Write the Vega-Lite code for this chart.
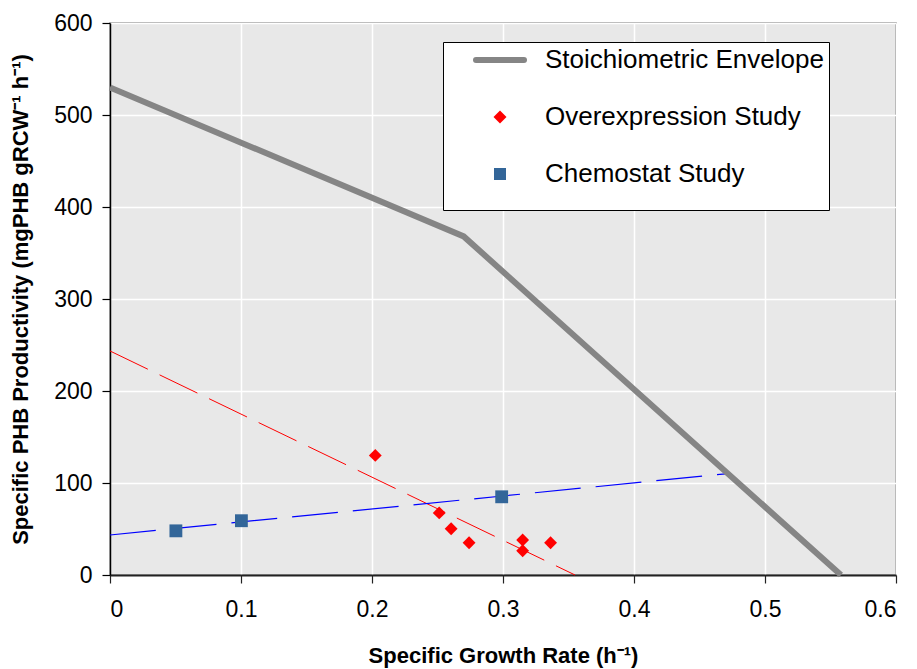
{
  "$schema": "https://vega.github.io/schema/vega-lite/v6.json",
  "width": 786,
  "height": 552,
  "autosize": {"type": "none"},
  "padding": {"left": 110, "top": 23, "right": 21, "bottom": 94},
  "background": "white",
  "config": {
    "view": {"fill": "#e8e8e8", "stroke": "#8c8c8c", "strokeWidth": 1.5},
    "font": "Liberation Sans"
  },
  "datasets": {
    "envelope": [
      {"x": 0, "y": 530, "series": "Stoichiometric Envelope"},
      {"x": 0.27, "y": 368, "series": "Stoichiometric Envelope"},
      {"x": 0.558, "y": 0, "series": "Stoichiometric Envelope"}
    ],
    "points": [
      {"x": 0.2025, "y": 130, "series": "Overexpression Study"},
      {"x": 0.2513, "y": 67.5, "series": "Overexpression Study"},
      {"x": 0.2604, "y": 50.3, "series": "Overexpression Study"},
      {"x": 0.2741, "y": 35.1, "series": "Overexpression Study"},
      {"x": 0.315, "y": 38, "series": "Overexpression Study"},
      {"x": 0.315, "y": 26.4, "series": "Overexpression Study"},
      {"x": 0.3363, "y": 35.1, "series": "Overexpression Study"},
      {"x": 0.0503, "y": 48, "series": "Chemostat Study"},
      {"x": 0.1003, "y": 59, "series": "Chemostat Study"},
      {"x": 0.299, "y": 85, "series": "Chemostat Study"}
    ],
    "trendRed": [
      {"x": 0, "y": 243.5},
      {"x": 0.355, "y": 0}
    ],
    "trendBlue": [
      {"x": 0, "y": 43.5},
      {"x": 0.47, "y": 110}
    ]
  },
  "encoding": {
    "x": {
      "field": "x",
      "type": "quantitative",
      "scale": {"domain": [0, 0.6], "nice": false, "zero": false},
      "axis": {
        "title": "Specific Growth Rate (h⁻¹)",
        "values": [0, 0.1, 0.2, 0.3, 0.4, 0.5, 0.6],
        "format": "~g",
        "grid": true,
        "gridColor": "white",
        "gridWidth": 1.5,
        "domainColor": "#222222",
        "domainWidth": 2,
        "tickColor": "#222222",
        "tickWidth": 1.2,
        "tickSize": 8,
        "labelFontSize": 23,
        "labelColor": "black",
        "labelPadding": 15,
        "titleFontSize": 22,
        "titleFontWeight": "bold",
        "titleColor": "black",
        "titlePadding": 24
      }
    },
    "y": {
      "field": "y",
      "type": "quantitative",
      "scale": {"domain": [0, 600], "nice": false},
      "axis": {
        "title": "Specific PHB Productivity (mgPHB gRCW⁻¹ h⁻¹)",
        "values": [0, 100, 200, 300, 400, 500, 600],
        "grid": true,
        "gridColor": "white",
        "gridWidth": 1.5,
        "domainColor": "black",
        "domainWidth": 1.5,
        "tickColor": "black",
        "tickWidth": 1.2,
        "tickSize": 8,
        "labelFontSize": 23,
        "labelColor": "black",
        "labelPadding": 10,
        "titleFontSize": 22,
        "titleFontWeight": "bold",
        "titleColor": "black",
        "titlePadding": 21
      }
    }
  },
  "layer": [
    {
      "data": {"name": "trendRed"},
      "mark": {"type": "line", "color": "#ff0000", "strokeWidth": 1, "strokeDash": [42, 13]}
    },
    {
      "data": {"name": "trendBlue"},
      "mark": {"type": "line", "color": "#0000ff", "strokeWidth": 1.2, "strokeDash": [46, 15]}
    },
    {
      "data": {"name": "envelope"},
      "mark": {"type": "line", "strokeWidth": 6, "strokeCap": "butt"},
      "encoding": {
        "color": {
          "field": "series",
          "type": "nominal",
          "scale": {
            "domain": ["Stoichiometric Envelope", "Overexpression Study", "Chemostat Study"],
            "range": ["#858585", "#ff0000", "#336699"]
          },
          "legend": {
            "title": "\u00a0",
            "titleOrient": "bottom",
            "titleFontSize": 16,
            "titlePadding": 2,
            "orient": "none",
            "legendX": 333,
            "legendY": 19,
            "padding": 5,
            "rowPadding": 31,
            "symbolSize": 150,
            "symbolOffset": 39,
            "labelOffset": 32,
            "labelFontSize": 26,
            "labelColor": "black",
            "labelLimit": 600,
            "fillColor": "white",
            "strokeColor": "black",
            "encode": {
              "symbols": {
                "update": {
                  "size": {"signal": "datum.value === 'Stoichiometric Envelope' ? 2304 : datum.value === 'Overexpression Study' ? 170 : 144"},
                  "fill": {"signal": "datum.value === 'Overexpression Study' ? '#ff0000' : datum.value === 'Chemostat Study' ? '#336699' : 'transparent'"},
                  "stroke": {"signal": "datum.value === 'Stoichiometric Envelope' ? '#8c8c8c' : 'transparent'"},
                  "strokeWidth": {"signal": "datum.value === 'Stoichiometric Envelope' ? 6 : 0"},
                  "strokeCap": {"value": "round"},
                  "opacity": {"value": 1}
                }
              }
            }
          }
        }
      }
    },
    {
      "data": {"name": "points"},
      "mark": {"type": "point", "filled": true, "opacity": 1, "size": 165},
      "encoding": {
        "color": {
          "field": "series",
          "type": "nominal",
          "scale": {
            "domain": ["Stoichiometric Envelope", "Overexpression Study", "Chemostat Study"],
            "range": ["#858585", "#ff0000", "#336699"]
          }
        },
        "shape": {
          "field": "series",
          "type": "nominal",
          "scale": {
            "domain": ["Stoichiometric Envelope", "Overexpression Study", "Chemostat Study"],
            "range": ["stroke", "diamond", "square"]
          }
        }
      }
    }
  ]
}
